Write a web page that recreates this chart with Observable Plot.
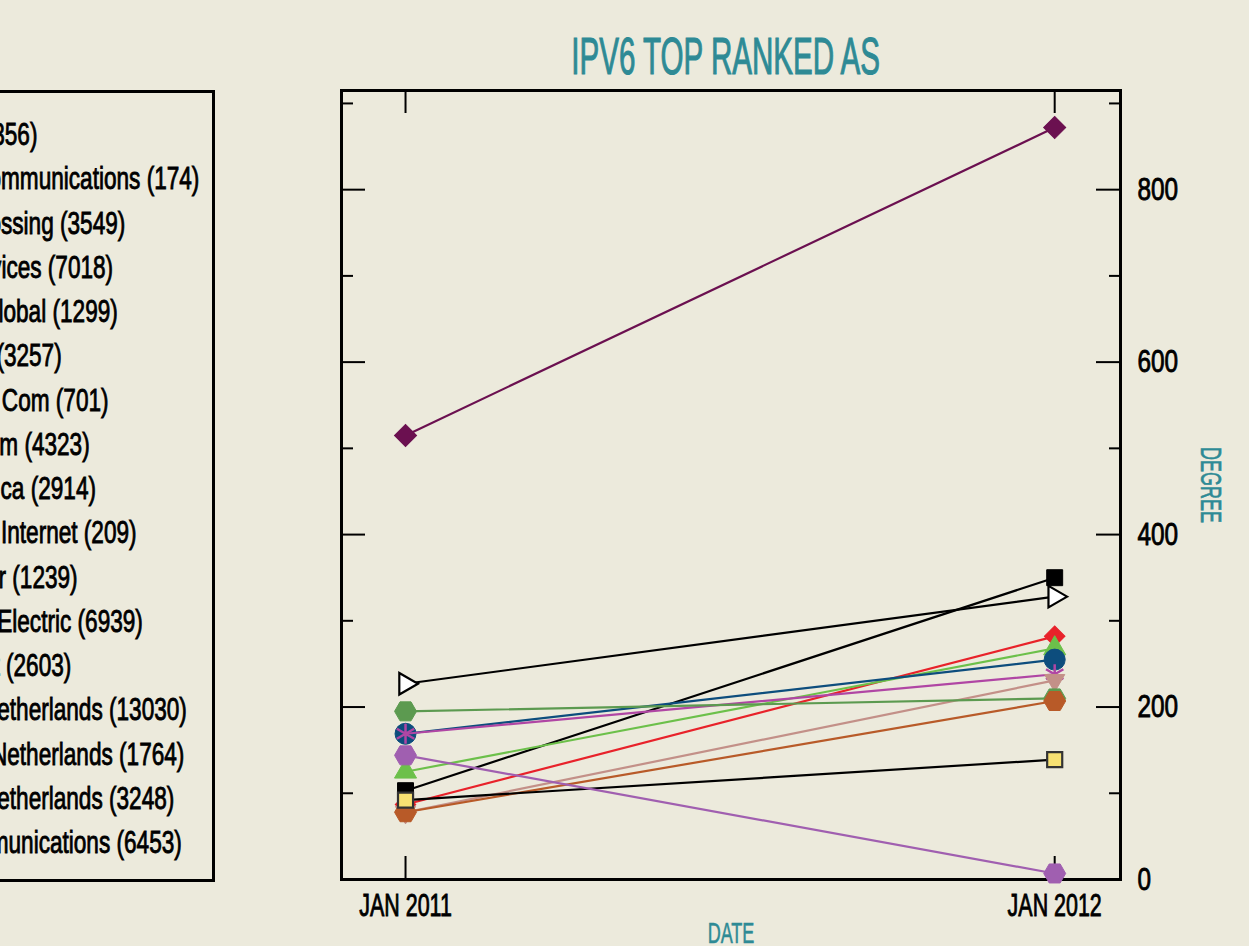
<!DOCTYPE html>
<html>
<head>
<meta charset="utf-8">
<script src="https://cdn.jsdelivr.net/npm/d3@7"></script>
<script src="https://cdn.jsdelivr.net/npm/@observablehq/plot@0.6"></script>
<style>
  html, body { margin: 0; padding: 0; background: #eceadc; width: 1249px; height: 946px; overflow: hidden; }
  body { position: relative; font-family: "Liberation Sans", "DejaVu Sans", sans-serif; color: #000; }
  #title { position: relative; height: 70px; }
  #title div { position: absolute; left: 336px; width: 779px; top: 30px; text-align: center;
               font-size: 52px; line-height: 52px; color: #2e8a95; white-space: nowrap; }
  #title span { display: inline-block; transform: scaleX(0.568); transform-origin: 50% 50%;
                -webkit-text-stroke: 1.1px #2e8a95; }
  #legend { position: absolute; left: -200px; top: 90px; width: 415px; height: 792px; box-sizing: border-box;
            border: 3px solid #000; padding: 19px 0 0 90px; overflow: hidden; }
  #legend .row { height: 44.25px; line-height: 44.25px; font-size: 32px; white-space: nowrap; }
  #legend .row span { display: inline-block; transform: scaleX(0.706); transform-origin: 0 50%;
                      -webkit-text-stroke: 0.9px #000; }
  svg { display: block; }
</style>
</head>
<body>
<div id="title"><div><span>IPV6 TOP RANKED AS</span></div></div>
<div id="legend"></div>
<script>
// ---------- data ----------
const dates = ["2011-01-01", "2012-01-01"];
const dateTickLabels = ["JAN 2011", "JAN 2012"];
const degreeTicks = [0, 200, 400, 600, 800];
const degreeMinorTicks = [100, 300, 500, 700, 900];

const legendNames = [
  "Level 3 (3356)",
  "Cogent Communications (174)",
  "Global Crossing (3549)",
  "AT&T Services (7018)",
  "TeliaNet Global (1299)",
  "Tinet SpA (3257)",
  "Verizon IP Com (701)",
  "TW Telecom (4323)",
  "NTT America (2914)",
  "Qwest US Internet (209)",
  "Sprint Peer (1239)",
  "Hurricane Electric (6939)",
  "Nordic Net (2603)",
  "Easynet Netherlands (13030)",
  "Eurofiber Netherlands (1764)",
  "Versatel Netherlands (3248)",
  "Tata Communications (6453)"
];

const seriesNames = [
  "Hurricane Electric (6939)",
  "NTT America (2914)",
  "Tinet SpA (3257)",
  "Cogent Communications (174)",
  "Global Crossing (3549)",
  "Tata Communications (6453)",
  "Level 3 (3356)",
  "TeliaNet Global (1299)",
  "Easynet Netherlands (13030)",
  "Eurofiber Netherlands (1764)",
  "Qwest US Internet (209)",
  "Nordic Net (2603)"
];
const degree2011 = [515, 227, 103, 87, 125, 169, 169, 78, 195, 78, 92, 144];
const degree2012 = [872, 328, 350, 282, 268, 255, 238, 231, 210, 207, 139, 7];

// ---------- styles ----------
const lineColors   = ["#6b1050", "#000000", "#000000", "#e8222a", "#6cc04a", "#0d4d7d", "#b046a4", "#c39088", "#5c9a50", "#b85a28", "#000000", "#a05fb0"];
const markerFills  = ["#6b1050", "#ffffff", "#000000", "#e8222a", "#6cc04a", "#0d4d7d", "none",    "#c39088", "#5c9a50", "#b85a28", "#f7e172", "#a05fb0"];
const markerStroke = ["#6b1050", "#000000", "#000000", "#e8222a", "#6cc04a", "#0d4d7d", "#b046a4", "#c39088", "#5c9a50", "#b85a28", "#333333", "#a05fb0"];
const markerStrokeW= [1, 2.2, 1, 1, 1, 1, 2.5, 1, 1, 1, 2.2, 1];
const markerSymbol = ["square", "triangle", "square", "square", "triangle", "circle", "asterisk", "triangle", "hexagon", "hexagon", "square", "hexagon"];
const markerRotate = [45, 90, 0, 45, 0, 0, 0, 180, 90, 90, 0, 90];
const markerR      = [8.8, 8, 9, 8.2, 8.2, 10.5, 9.5, 7.5, 9.5, 9.5, 8.5, 9.5];

const teal = "#2e8a95";

// ---------- build rows ----------
const rows = [];
seriesNames.forEach((name, i) => {
  rows.push({name, i, date: new Date(dates[0]), degree: degree2011[i]});
  rows.push({name, i, date: new Date(dates[1]), degree: degree2012[i]});
});
const tickDates = dates.map(d => new Date(d));
const fmtDate = d => dateTickLabels[tickDates.findIndex(t => +t === +d)];

const marks = [
  Plot.frame({stroke: "#000", strokeWidth: 3}),
  Plot.axisX(tickDates, {anchor: "bottom", tickSize: -23, tickFormat: () => "", label: null, strokeWidth: 2}),
  Plot.axisX(tickDates, {anchor: "top", tickSize: -22, tickFormat: () => "", label: null, strokeWidth: 2}),
  Plot.axisX(tickDates, {anchor: "bottom", tickSize: 0, tickPadding: 14, tickFormat: fmtDate, label: null, fontSize: 32}),
  Plot.axisY(degreeTicks, {anchor: "left", tickSize: -24, tickFormat: () => "", label: null, strokeWidth: 2}),
  Plot.axisY(degreeMinorTicks, {anchor: "left", tickSize: -12, tickFormat: () => "", label: null, strokeWidth: 2}),
  Plot.axisY(degreeTicks, {anchor: "right", tickSize: -25, tickFormat: () => "", label: null, strokeWidth: 2}),
  Plot.axisY(degreeMinorTicks, {anchor: "right", tickSize: -12, tickFormat: () => "", label: null, strokeWidth: 2}),
  Plot.axisY(degreeTicks, {anchor: "right", tickSize: 0, tickPadding: 17, label: null, fontSize: 32}),
  Plot.text(["DATE"], {text: d => d, frameAnchor: "bottom", lineAnchor: "middle", textAnchor: "middle", dy: 54, fill: teal, fontSize: 30}),
  Plot.text(["DEGREE"], {text: d => d, frameAnchor: "right", lineAnchor: "middle", textAnchor: "middle", dx: 90, rotate: 90, fill: teal, fontSize: 30})
];

seriesNames.forEach((name, i) => {
  const data = rows.filter(r => r.i === i);
  marks.push(Plot.line(data, {x: "date", y: "degree", stroke: lineColors[i], strokeWidth: 2.2}));
  marks.push(Plot.dot(data, {
    x: "date", y: "degree",
    symbol: markerSymbol[i], r: markerR[i], rotate: markerRotate[i],
    fill: markerFills[i], stroke: markerStroke[i], strokeWidth: markerStrokeW[i]
  }));
});

const svg = Plot.plot({
  width: 1249,
  height: 876,
  marginTop: 20,
  marginBottom: 67,
  marginLeft: 341,
  marginRight: 129,
  x: {type: "utc", domain: [new Date("2010-11-26"), new Date("2012-02-07")]},
  y: {domain: [0, 915]},
  style: {background: "transparent", fontFamily: "'Liberation Sans', 'DejaVu Sans', sans-serif", fontSize: "32px", color: "#000", overflow: "visible"},
  marks
});
document.body.appendChild(svg);

// condense (and slightly embolden) svg text to mimic a condensed medium face
svg.querySelectorAll("text").forEach(t => {
  const s = t.textContent;
  if (!s) return;
  const isLabel = /^[A-Z]+$/.test(s);
  const f = /^[0-9]+$/.test(s) ? 0.76 : /[0-9]/.test(s) ? 0.67 : 0.6;
  const L = t.getComputedTextLength();
  t.setAttribute("textLength", (L * f).toFixed(1));
  t.setAttribute("lengthAdjust", "spacingAndGlyphs");
  t.setAttribute("stroke", isLabel ? teal : "#000");
  t.setAttribute("stroke-width", isLabel ? 0.6 : 0.9);
});

// legend
const legend = document.getElementById("legend");
legendNames.forEach(n => {
  const row = document.createElement("div");
  row.className = "row";
  const span = document.createElement("span");
  span.textContent = n;
  row.appendChild(span);
  legend.appendChild(row);
});
</script>
</body>
</html>
